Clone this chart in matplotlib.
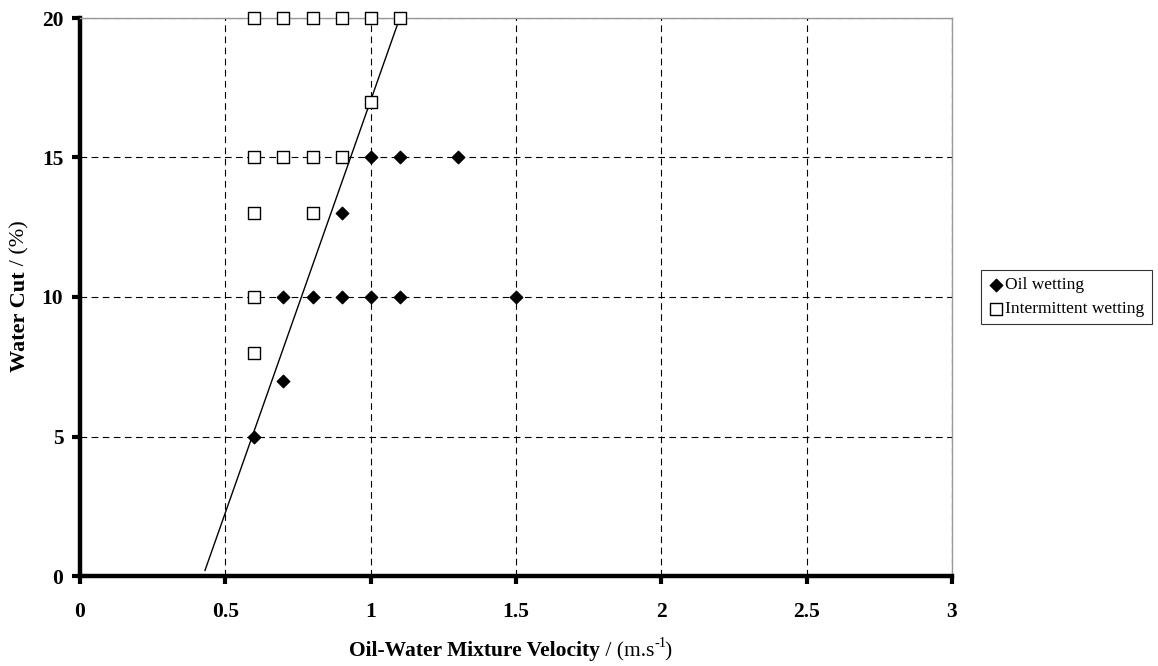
import matplotlib
matplotlib.use("Agg")
import matplotlib.pyplot as plt

# data
oil_x = [0.6, 0.7, 0.7, 0.8, 0.9, 1.0, 1.1, 1.5, 0.9, 1.0, 1.1, 1.3]
oil_y = [5, 7, 10, 10, 10, 10, 10, 10, 13, 15, 15, 15]

inter_x = [0.6, 0.7, 0.8, 0.9, 1.0, 1.1, 1.0, 0.6, 0.7, 0.8, 0.9, 0.6, 0.8, 0.6, 0.6]
inter_y = [20, 20, 20, 20, 20, 20, 17, 15, 15, 15, 15, 13, 13, 10, 8]

# transition line
line_x = [0.43, 1.1]
line_y = [0.2, 20]

x_ticks = [0, 0.5, 1, 1.5, 2, 2.5, 3]
x_tick_labels = ["0", "0.5", "1", "1.5", "2", "2.5", "3"]
y_ticks = [0, 5, 10, 15, 20]

plt.rcParams["font.family"] = ["Liberation Serif", "DejaVu Serif"]

fig = plt.figure(figsize=(11.58, 6.66), dpi=100)
ax = fig.add_axes([80 / 1158, 90 / 666, 872 / 1158, 558 / 666])

ax.plot(line_x, line_y, color="black", linewidth=1.0, zorder=3)
ax.scatter(oil_x, oil_y, marker="D", s=40, color="black", zorder=4,
           label="Oil wetting", clip_on=False)
ax.scatter(inter_x, inter_y, marker="s", s=64, facecolor="white",
           edgecolor="black", linewidth=1.0, zorder=4,
           label="Intermittent wetting", clip_on=False)

ax.set_xlim(0, 3)
ax.set_ylim(0, 20)
ax.set_xticks(x_ticks)
ax.set_xticklabels(x_tick_labels)
ax.set_yticks(y_ticks)
ax.grid(True, color="black", linestyle=(0, (6, 4)), linewidth=0.8)
ax.set_axisbelow(True)

for lab in ax.get_xticklabels() + ax.get_yticklabels():
    lab.set_fontweight("bold")
    lab.set_fontsize(15.5)
ax.tick_params(axis="both", direction="out", length=6, width=3, color="black")
ax.tick_params(axis="x", pad=13)
ax.tick_params(axis="y", pad=6)

ax.spines["left"].set_linewidth(3.2)
ax.spines["bottom"].set_linewidth(3.2)
ax.spines["top"].set_color("#999999")
ax.spines["right"].set_color("#999999")
ax.spines["top"].set_linewidth(1.0)
ax.spines["right"].set_linewidth(1.0)

# x label: bold part + normal part with a raised "-1"
t1 = fig.text(349 / 1158, 1 - 651 / 666, "Oil-Water Mixture Velocity",
              fontsize=15.5, fontweight="bold", ha="left", va="center")
t1b = ax.annotate(" / (m.s", xy=(1, 0), xycoords=t1, fontsize=15.5,
                  ha="left", va="bottom", annotation_clip=False)
ax.annotate("-1", xy=(1, 0.55), xycoords=t1b, fontsize=10.5,
            ha="left", va="bottom", annotation_clip=False)
ax.annotate(")", xy=(1, 0), xycoords=t1b, xytext=(7.5, 0),
            textcoords="offset points", fontsize=15.5,
            ha="left", va="bottom", annotation_clip=False)

# y label: bold part + normal part
t2 = fig.text(20 / 1158, 1 - 372 / 666, "Water Cut", fontsize=16,
              fontweight="bold", rotation=90, ha="center", va="bottom")
ax.annotate(" / (%)", xy=(0.5, 1), xycoords=t2, fontsize=16, rotation=90,
            ha="center", va="bottom", annotation_clip=False)

leg = fig.legend(loc="upper left", bbox_to_anchor=(981 / 1158, 1 - 270 / 666),
                 fontsize=12.5, frameon=True, fancybox=False, handletextpad=0.1,
                 handlelength=0.9, borderpad=0.4, labelspacing=0.45,
                 borderaxespad=0, markerscale=1.0)
leg.get_frame().set_edgecolor("black")
leg.get_frame().set_linewidth(0.8)

fig.savefig("out.png", dpi=100)
plt.close(fig)
